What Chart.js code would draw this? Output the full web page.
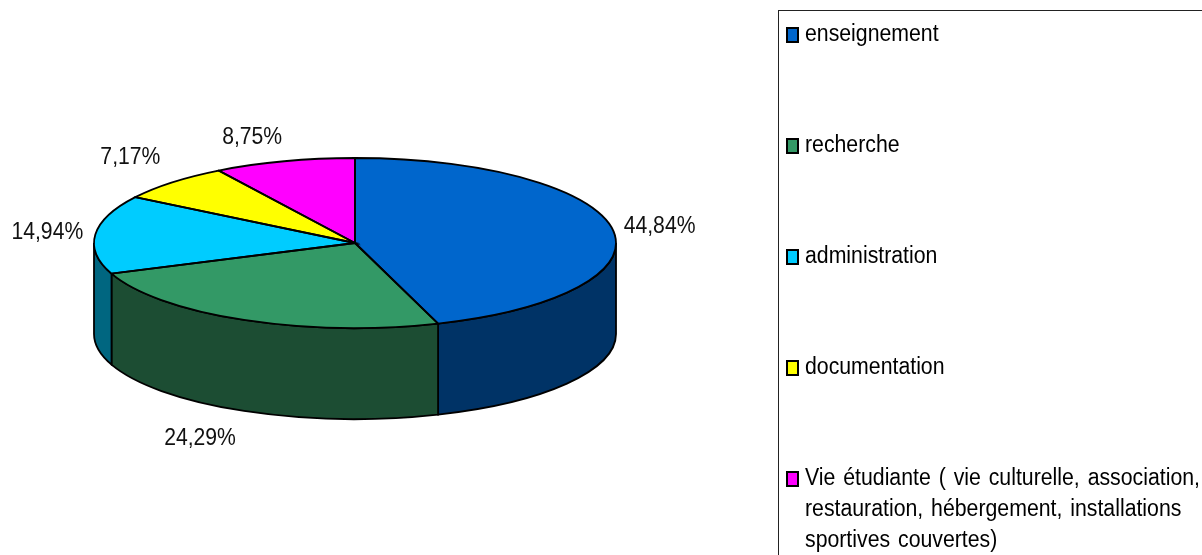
<!DOCTYPE html>
<html>
<head>
<meta charset="utf-8">
<title>Pie 3D</title>
<script src="https://cdn.jsdelivr.net/npm/chart.js@4"></script>
<style>
  html, body { margin: 0; padding: 0; background: #fff; overflow: hidden; }
  #wrap { position: relative; width: 1202px; height: 555px; overflow: hidden; }
  #myChart { position: absolute; left: 0; top: 0; }
  #legendBox { position: absolute; left: 778px; top: 10px; width: 440px; height: 560px; border: 1px solid #222; box-sizing: border-box; }
  .swatch { position: absolute; left: 786px; width: 13px; height: 16px; box-sizing: border-box; border: 2px solid #000; }
  .txt { position: absolute; left: 805px; font: 23.5px "Liberation Sans", Arial, sans-serif; color: #000; white-space: pre; word-spacing: 2.2px; line-height: 31px; transform: scaleX(0.905); transform-origin: left top; }
</style>
</head>
<body>
<div id="wrap">
  <canvas id="myChart" width="1202" height="555"></canvas>
  <div id="legendBox"></div>
  <div id="legend"></div>
</div>
<script>
// Data
const categories = ['enseignement', 'recherche', 'administration', 'documentation', 'Vie étudiante ( vie culturelle, association,\nrestauration, hébergement, installations\nsportives couvertes)'];
const values = [44.84, 24.29, 14.94, 7.17, 8.75];
const topColors = ['#0066CC', '#339966', '#00CCFF', '#FFFF00', '#FF00FF'];
const sideColors = ['#003366', '#1C4D33', '#006680', '#808000', '#800080'];

// where the flattened pie goes on the page
const pieX = 355, pieY = 243, squash = 85 / 261, depth = 91;
// label centre, relative to the rim point in the middle of the slice
const labelOffsets = [[47, -3], [-44, 119], [-48, -2], [-42, -25], [-32, -24]];
const legendTops = [18, 129, 240, 351, 462];

function pct(v) {
    return v.toFixed(2).replace('.', ',') + '%';
}

const pie3d = {
    id: 'pie3d',
    beforeDatasetsDraw(chart) {
        const ctx = chart.ctx;
        const arcs = chart.getDatasetMeta(0).data;
        const r = arcs[0].outerRadius;
        // side walls first, only the front half can be seen
        arcs.forEach((arc, i) => {
            const a0 = Math.max(arc.startAngle, 0);
            const a1 = Math.min(arc.endAngle, Math.PI);
            if (a1 <= a0) return;
            ctx.beginPath();
            ctx.ellipse(pieX, pieY, r, r * squash, 0, a0, a1, false);
            ctx.ellipse(pieX, pieY + depth, r, r * squash, 0, a1, a0, true);
            ctx.closePath();
            ctx.fillStyle = sideColors[i];
            ctx.fill();
            ctx.lineWidth = 1.8;
            ctx.strokeStyle = '#000';
            ctx.stroke();
        });
        // the library draws the slices through this squashed transform
        ctx.save();
        ctx.translate(pieX, pieY);
        ctx.scale(1, squash);
        ctx.translate(-arcs[0].x, -arcs[0].y);
    },
    afterDatasetsDraw(chart) {
        const ctx = chart.ctx;
        ctx.restore();
        const arcs = chart.getDatasetMeta(0).data;
        const r = arcs[0].outerRadius;
        arcs.forEach((arc, i) => {
            ctx.beginPath();
            ctx.moveTo(pieX, pieY);
            ctx.ellipse(pieX, pieY, r, r * squash, 0, arc.startAngle, arc.endAngle, false);
            ctx.closePath();
            ctx.lineWidth = 1.8;
            ctx.strokeStyle = '#000';
            ctx.stroke();

            const mid = (arc.startAngle + arc.endAngle) / 2;
            const lx = pieX + r * Math.cos(mid) + labelOffsets[i][0];
            const ly = pieY + r * squash * Math.sin(mid) + labelOffsets[i][1];
            ctx.save();
            ctx.translate(lx, ly);
            ctx.scale(0.9, 1);
            ctx.font = '23.5px "Liberation Sans", Arial, sans-serif';
            ctx.fillStyle = '#111';
            ctx.textAlign = 'center';
            ctx.textBaseline = 'middle';
            ctx.fillText(pct(values[i]), 0, 0);
            ctx.restore();
        });
    }
};

const config = {
    type: 'pie',
    data: {
        labels: categories,
        datasets: [{
            data: values,
            backgroundColor: topColors,
            borderWidth: 0,
            clip: false
        }]
    },
    options: {
        responsive: false,
        animation: false,
        events: [],
        layout: { padding: { left: 94, right: 586, top: 16, bottom: 17 } },
        plugins: {
            legend: { display: false },
            tooltip: { enabled: false }
        }
    },
    plugins: [pie3d]
};

const myChart = new Chart(document.getElementById('myChart'), config);

// Legend
const legend = document.getElementById('legend');
categories.forEach((name, i) => {
    const sw = document.createElement('div');
    sw.className = 'swatch';
    sw.style.top = (legendTops[i] + 9) + 'px';
    sw.style.background = topColors[i];
    legend.appendChild(sw);
    const t = document.createElement('div');
    t.className = 'txt';
    t.style.top = legendTops[i] + 'px';
    t.textContent = name;
    legend.appendChild(t);
});
</script>
</body>
</html>
